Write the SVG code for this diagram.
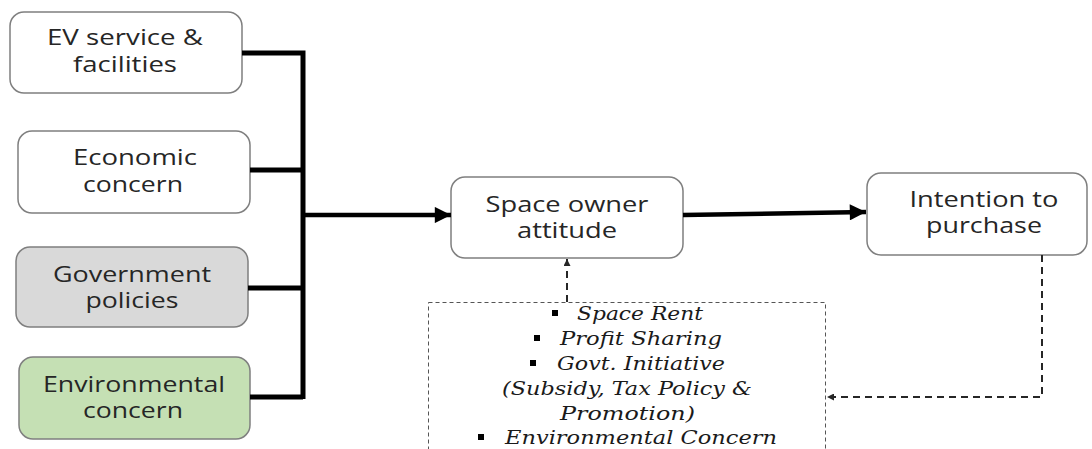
<svg xmlns="http://www.w3.org/2000/svg" width="1092" height="449" viewBox="0 0 1092 449">
<defs>
<style>
.node{stroke:#7f7f7f;stroke-width:1.5;}
.lbl{font-family:"Open Sans","Liberation Sans",sans-serif;font-size:21px;fill:#262626;text-anchor:middle;}
.bus{stroke:#000;stroke-width:5;fill:none;}
.main{stroke:#000;stroke-width:4.5;fill:none;}
.dash{stroke:#262626;stroke-width:2;stroke-dasharray:7 5;fill:none;}
.fac{font-family:"DejaVu Serif","Liberation Serif",serif;font-style:italic;font-size:18.5px;fill:#1a1a1a;}
</style>
<marker id="ah" viewBox="0 0 10 10" refX="10" refY="5" markerWidth="4.4" markerHeight="3.6" markerUnits="strokeWidth" orient="auto">
<path d="M0,0 L10,5 L0,10 z" fill="#000"/>
</marker>
<marker id="ahs" viewBox="0 0 10 10" refX="10" refY="5" markerWidth="4" markerHeight="3.5" markerUnits="strokeWidth" orient="auto">
<path d="M0,0 L10,5 L0,10 z" fill="#262626"/>
</marker>
</defs>
<rect width="1092" height="449" fill="#fff"/>

<g id="n-ev">
<rect class="node" x="10" y="12" width="232" height="81" rx="14" fill="#fff"/>
<text class="lbl" x="125" y="45" textLength="156" lengthAdjust="spacingAndGlyphs">EV service &amp;</text>
<text class="lbl" x="125" y="72" textLength="104" lengthAdjust="spacingAndGlyphs">facilities</text>
</g>
<g id="n-econ">
<rect class="node" x="18" y="131" width="232" height="82" rx="14" fill="#fff"/>
<text class="lbl" x="135" y="165" textLength="124" lengthAdjust="spacingAndGlyphs">Economic</text>
<text class="lbl" x="133" y="192" textLength="100" lengthAdjust="spacingAndGlyphs">concern</text>
</g>
<g id="n-gov">
<rect class="node" x="16" y="247" width="232" height="80" rx="14" fill="#d9d9d9"/>
<text class="lbl" x="132" y="282" textLength="158" lengthAdjust="spacingAndGlyphs">Government</text>
<text class="lbl" x="132" y="308" textLength="93" lengthAdjust="spacingAndGlyphs">policies</text>
</g>
<g id="n-env">
<rect class="node" x="19" y="357" width="231" height="82" rx="14" fill="#c5e0b4"/>
<text class="lbl" x="134" y="392" textLength="182" lengthAdjust="spacingAndGlyphs">Environmental</text>
<text class="lbl" x="133" y="418" textLength="100" lengthAdjust="spacingAndGlyphs">concern</text>
</g>
<g id="n-space">
<rect class="node" x="451" y="177" width="232" height="81" rx="14" fill="#fff"/>
<text class="lbl" x="567" y="212" textLength="163" lengthAdjust="spacingAndGlyphs">Space owner</text>
<text class="lbl" x="567" y="238" textLength="100" lengthAdjust="spacingAndGlyphs">attitude</text>
</g>
<g id="n-intent">
<rect class="node" x="867" y="173" width="220" height="82" rx="14" fill="#fff"/>
<text class="lbl" x="984" y="207" textLength="149" lengthAdjust="spacingAndGlyphs">Intention to</text>
<text class="lbl" x="984" y="233" textLength="116" lengthAdjust="spacingAndGlyphs">purchase</text>
</g>
<g id="n-factors">
<rect x="428.5" y="302.5" width="397" height="160" fill="none" stroke="#555" stroke-width="1" stroke-dasharray="4 3"/>
<rect x="552" y="310" width="6" height="6" fill="#000"/>
<text class="fac" x="577" y="320" textLength="126" lengthAdjust="spacingAndGlyphs">Space Rent</text>
<rect x="534" y="335" width="6" height="6" fill="#000"/>
<text class="fac" x="560" y="345" textLength="162" lengthAdjust="spacingAndGlyphs">Profit Sharing</text>
<rect x="530" y="360" width="6" height="6" fill="#000"/>
<text class="fac" x="557" y="370" textLength="168" lengthAdjust="spacingAndGlyphs">Govt. Initiative</text>
<text class="fac" x="502" y="395" textLength="250" lengthAdjust="spacingAndGlyphs">(Subsidy, Tax Policy &amp;</text>
<text class="fac" x="560" y="420" textLength="135" lengthAdjust="spacingAndGlyphs">Promotion)</text>
<rect x="478" y="434" width="6" height="6" fill="#000"/>
<text class="fac" x="505" y="444" textLength="272" lengthAdjust="spacingAndGlyphs">Environmental Concern</text>
</g>

<g id="connectors">
<polyline class="bus" points="242,53 303,53 303,399"/>
<line class="bus" x1="250" y1="170" x2="303" y2="170"/>
<line class="bus" x1="248" y1="288" x2="303" y2="288"/>
<line class="bus" x1="250" y1="397" x2="303" y2="397"/>
<line class="main" x1="303" y1="215" x2="451" y2="215" marker-end="url(#ah)"/>
<line class="main" x1="683" y1="215" x2="866" y2="212" marker-end="url(#ah)"/>
<line class="dash" x1="567" y1="302" x2="567" y2="259" marker-end="url(#ahs)"/>
<polyline class="dash" points="1042,255 1042,397 827,397" marker-end="url(#ahs)"/>
</g>
</svg>
